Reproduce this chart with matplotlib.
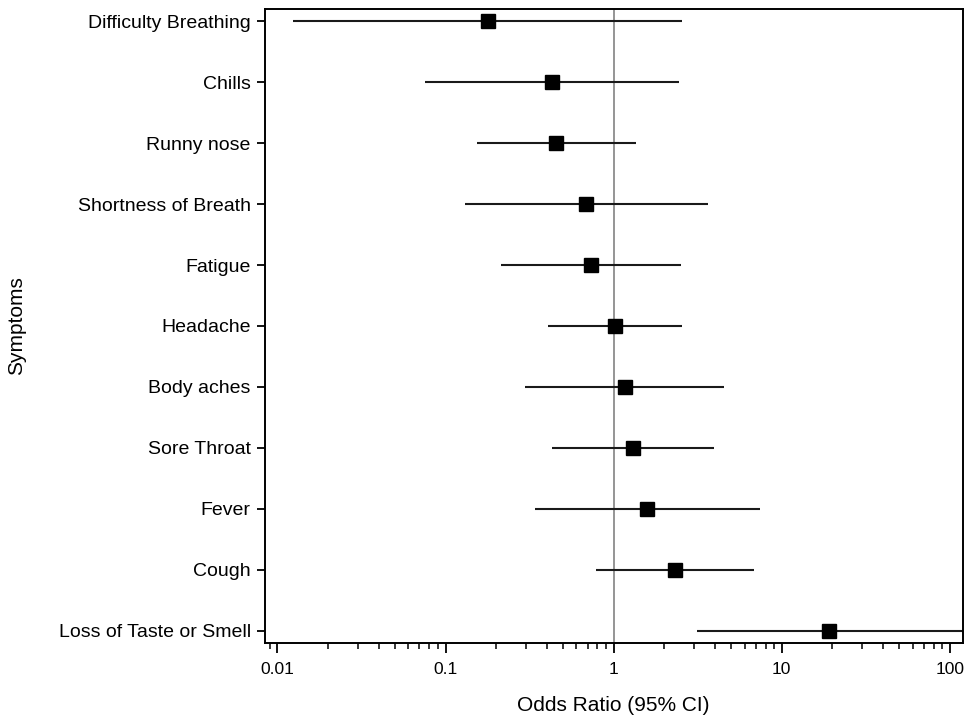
import numpy as np
import matplotlib
matplotlib.use("Agg")
import matplotlib.pyplot as plt
from matplotlib.ticker import FuncFormatter, LogLocator

# forest plot data, listed top to bottom
symptoms = ["Difficulty Breathing", "Chills", "Runny nose", "Shortness of Breath",
            "Fatigue", "Headache", "Body aches", "Sore Throat", "Fever", "Cough",
            "Loss of Taste or Smell"]
odds_ratio = [0.178, 0.43, 0.456, 0.684, 0.731, 1.02, 1.16, 1.30, 1.57, 2.32, 19.1]
ci_low = [0.0124, 0.0755, 0.153, 0.130, 0.214, 0.409, 0.296, 0.432, 0.342, 0.787, 3.14]
ci_high = [2.55, 2.46, 1.36, 3.64, 2.53, 2.56, 4.56, 3.94, 7.44, 6.86, 130.0]
xticks = [0.01, 0.1, 1, 10, 100]

plt.rcParams['font.family'] = ['Liberation Sans', 'DejaVu Sans']

fig = plt.figure(figsize=(9.67, 7.16), dpi=100)
ax = fig.add_axes([0.2737, 0.102, 0.7218, 0.8854])

y = np.arange(len(symptoms))
ax.axvline(1, color='#8c8c8c', lw=1.3, zorder=1)
ax.hlines(y, ci_low, ci_high, color='#1a1a1a', lw=1.5, zorder=2)
ax.plot(odds_ratio, y, ls='none', marker='s', ms=9.5, color='black', zorder=3)

ax.set_xscale('log')
ax.set_xlim(0.0084, 119)
ax.set_ylim(len(symptoms) - 0.8, -0.2)
ax.set_xticks(xticks)
ax.xaxis.set_major_formatter(FuncFormatter(lambda v, p: '%g' % v))
ax.xaxis.set_minor_locator(LogLocator(base=10, subs=np.arange(2, 10)))
ax.xaxis.set_minor_formatter(FuncFormatter(lambda v, p: ''))
ax.set_yticks(y)
ax.set_yticklabels(symptoms)

ax.tick_params(axis='x', which='major', length=7, width=1.3, pad=7, labelsize=12.5)
ax.tick_params(axis='x', which='minor', length=4.5, width=1.1)
ax.tick_params(axis='y', length=6, width=1.3, pad=4, labelsize=14)
for s in ax.spines.values():
    s.set_linewidth(1.4)

ax.set_xlabel('Odds Ratio (95% CI)', fontsize=15)
ax.set_ylabel('Symptoms', fontsize=15)
ax.xaxis.set_label_coords(0.5, -0.083)
ax.yaxis.set_label_coords(-0.342, 0.5)

fig.savefig('out.png', dpi=100)
